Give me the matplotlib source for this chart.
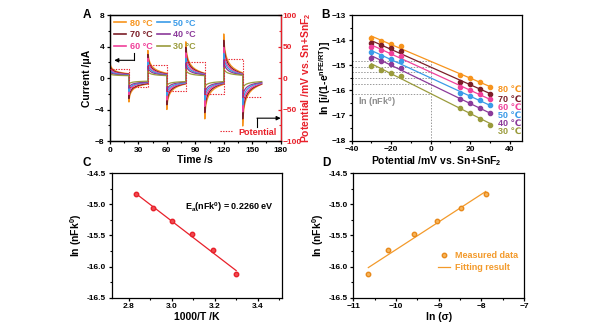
import numpy as np
import matplotlib
matplotlib.use("Agg")
import matplotlib.pyplot as plt
from matplotlib.lines import Line2D
from matplotlib.ticker import MultipleLocator, FormatStrFormatter

plt.rcParams['font.family'] = ['Liberation Sans', 'DejaVu Sans']
plt.rcParams['font.weight'] = 'bold'
plt.rcParams['axes.labelweight'] = 'bold'
plt.rcParams['mathtext.fontset'] = 'custom'
plt.rcParams['mathtext.rm'] = 'Liberation Sans:bold'
plt.rcParams['mathtext.bf'] = 'Liberation Sans:bold'
plt.rcParams['mathtext.it'] = 'Liberation Sans:bold'
plt.rcParams['mathtext.default'] = 'bf'
plt.rcParams['axes.linewidth'] = 0.9

# ---------------- data ----------------
temps = ["80", "70", "60", "50", "40", "30"]
colors = ["#F7941D", "#7B1E28", "#F0409A", "#3A9BE8", "#8B3A9A", "#9A9B3C"]

# potential steps (mV) and their start times (s)
step_start = [0, 20, 40, 60, 80, 100, 120, 140]
step_len = 20
potential = [15, -15, 20, -20, 25, -25, 30, -30]

# current at the start of each step (uA), one row per temperature
peak_current = [
    [2.0, -3.05, 3.5, -4.0, 4.6, -5.2, 5.6, -6.1],
    [1.7, -2.60, 3.0, -3.4, 3.9, -4.4, 4.8, -5.2],
    [1.4, -2.10, 2.5, -2.8, 3.2, -3.6, 3.9, -4.3],
    [1.1, -1.70, 2.0, -2.2, 2.5, -2.8, 3.1, -3.4],
    [0.85, -1.30, 1.5, -1.7, 1.9, -2.1, 2.3, -2.5],
    [0.55, -0.80, 0.9, -1.0, 1.1, -1.2, 1.3, -1.4],
]
# current at the end of each step (uA)
end_current = [
    [0.55, -0.75, 0.60, -0.75, 0.60, -0.80, 0.65, -0.80],
    [0.50, -0.70, 0.50, -0.70, 0.55, -0.70, 0.55, -0.75],
    [0.45, -0.60, 0.45, -0.65, 0.50, -0.65, 0.50, -0.70],
    [0.40, -0.55, 0.40, -0.60, 0.45, -0.60, 0.45, -0.60],
    [0.35, -0.50, 0.35, -0.50, 0.40, -0.55, 0.40, -0.55],
    [0.30, -0.40, 0.30, -0.45, 0.30, -0.45, 0.35, -0.45],
]
# relaxation of a transient: elapsed time (s) and remaining fraction
relax_t = [0, 0.3, 0.7, 1.2, 2, 3, 4, 5.5, 7.5, 10, 13, 16.5, 20]
relax_f = [1, 0.84, 0.71, 0.60, 0.49, 0.40, 0.33, 0.26, 0.19, 0.13, 0.08, 0.035, 0]

# Tafel-type plot: overpotential (mV) vs ln[i/(1-exp(nFE/RT))]
eta = [-30, -25, -20, -15, 15, 20, 25, 30]
lnj = [
    [-13.90, -14.03, -14.15, -14.24, -15.40, -15.50, -15.67, -15.85],
    [-14.10, -14.20, -14.33, -14.45, -15.67, -15.76, -15.93, -16.13],
    [-14.26, -14.39, -14.52, -14.63, -15.87, -15.99, -16.16, -16.36],
    [-14.49, -14.62, -14.74, -14.85, -16.10, -16.23, -16.40, -16.60],
    [-14.71, -14.83, -14.95, -15.09, -16.36, -16.52, -16.71, -16.92],
    [-15.02, -15.17, -15.30, -15.43, -16.72, -16.90, -17.12, -17.36],
]
label_y = [-15.95, -16.35, -16.68, -17.00, -17.30, -17.65]

# exchange rate constants
inv_T = [2.832, 2.914, 3.002, 3.095, 3.193, 3.299]
ln_nFk0 = [-14.84, -15.06, -15.27, -15.48, -15.74, -16.12]
ln_sigma = [-7.90, -8.48, -9.05, -9.58, -10.18, -10.65]

# ---------------- figure ----------------
fig = plt.figure(figsize=(6.0, 3.34), dpi=100)

TICK_FS = 6
LABEL_FS = 7.5
RED = '#E8202A'


def style(ax, xminor, yminor):
    ax.tick_params(which='major', direction='out', length=2.5, width=0.9,
                   labelsize=TICK_FS, pad=1.5)
    ax.tick_params(which='minor', direction='out', length=1.4, width=0.8)
    ax.xaxis.set_minor_locator(MultipleLocator(xminor))
    ax.yaxis.set_minor_locator(MultipleLocator(yminor))
    for lab in ax.get_xticklabels() + ax.get_yticklabels():
        lab.set_fontweight('bold')


# ---- A: chronoamperometry ----
axA = fig.add_axes([0.1833, 0.5778, 0.2845, 0.3772])
axA.set_xlim(0, 180)
axA.set_ylim(-8, 8)
axA.xaxis.set_major_locator(MultipleLocator(30))
axA.yaxis.set_major_locator(MultipleLocator(4))
style(axA, 15, 2)

handles = []
for i, (temp, c) in enumerate(zip(temps, colors)):
    tt, ii = [], []
    for k, t0 in enumerate(step_start):
        p, e = peak_current[i][k], end_current[i][k]
        for dt, f in zip(relax_t, relax_f):
            tt.append(t0 + dt)
            ii.append(e + (p - e) * f)
    axA.plot(tt, ii, color=c, lw=0.9, zorder=3 + i)
    handles.append(Line2D([], [], color=c, lw=1.2, label=f"{temp} °C"))

leg = axA.legend(handles=handles, ncol=2, loc='upper left', frameon=False,
                 fontsize=6.5, handlelength=1.4, handletextpad=0.4,
                 columnspacing=0.5, labelspacing=0.3, borderaxespad=0.2,
                 borderpad=0.2)
for txt, c in zip(leg.get_texts(), colors):
    txt.set_color(c)
    txt.set_fontweight('bold')

# arrows pointing to the matching axes
axA.annotate('', xy=(4.5, 2.25), xytext=(25, 2.25),
             arrowprops=dict(arrowstyle='-|>', color='black', lw=0.8,
                             mutation_scale=6, shrinkA=0, shrinkB=0))
axA.plot([25, 25], [2.25, 3.2], color='black', lw=0.8)
axA.annotate('', xy=(180, -5.1), xytext=(155, -5.1),
             arrowprops=dict(arrowstyle='-|>', color='black', lw=0.8,
                             mutation_scale=6, shrinkA=0, shrinkB=0),
             annotation_clip=False)
axA.plot([155, 155], [-5.1, -6.2], color='black', lw=0.8)

axA.set_xlabel("Time /s", fontsize=LABEL_FS, labelpad=1)
axA.set_ylabel("Current /μA", fontsize=LABEL_FS, labelpad=2)

axA2 = axA.twinx()
axA2.set_ylim(-100, 100)
axA2.yaxis.set_major_locator(MultipleLocator(50))
axA2.tick_params(which='major', direction='in', length=2.5, width=0.9,
                 labelsize=TICK_FS, pad=1.2, colors=RED)
axA2.tick_params(which='minor', direction='in', length=1.4, width=0.8,
                 colors=RED)
axA2.yaxis.set_minor_locator(MultipleLocator(25))
axA2.spines['right'].set_color(RED)
for lab in axA2.get_yticklabels():
    lab.set_fontweight('bold')
pot_t = step_start + [step_start[-1] + step_len]
pot_v = potential + [potential[-1]]
pline, = axA2.plot(pot_t, pot_v, drawstyle='steps-post', color=RED,
                   lw=0.8, ls=(0, (1.2, 1.2)), zorder=10, label='Potential')
axA2.set_ylabel("Potential /mV vs. Sn+SnF$_2$", fontsize=LABEL_FS,
                color=RED)
axA2.yaxis.set_label_coords(1.11, 0.5)
leg2 = axA2.legend(handles=[pline], loc='lower right', frameon=False,
                   fontsize=6.5, handlelength=1.5, handletextpad=0.5,
                   borderaxespad=0.3, borderpad=0.2)
for txt in leg2.get_texts():
    txt.set_color(RED)
    txt.set_fontweight('bold')

# ---- B: ln current vs overpotential ----
axB = fig.add_axes([0.586, 0.579, 0.2833, 0.376])
axB.set_xlim(-40, 46)
axB.set_ylim(-18, -13)
axB.xaxis.set_major_locator(MultipleLocator(20))
axB.yaxis.set_major_locator(MultipleLocator(1))
style(axB, 10, 0.5)

eta_arr = np.array(eta, dtype=float)
intercepts = []
for i, c in enumerate(colors):
    y = np.array(lnj[i])
    slope, icpt = np.polyfit(eta_arr, y, 1)
    intercepts.append(icpt)
    xs = np.array([eta[0], eta[-1]], dtype=float)
    axB.plot(xs, slope * xs + icpt, color=c, lw=0.9, zorder=3)
    axB.plot(eta_arr, y, 'o', color=c, ms=3.0, zorder=4)
    axB.text(34, label_y[i], f"{temps[i]} ℃", color=c, fontsize=6.5,
             fontweight='bold', va='center', ha='left',
             family=['Liberation Sans', 'DejaVu Sans'])
for icpt in intercepts:
    axB.plot([-40, 0], [icpt, icpt], color='#999999', lw=0.7,
             ls=(0, (1.5, 1.5)), zorder=2)
axB.plot([0, 0], [-18, max(intercepts)], color='#999999', lw=0.7,
         ls=(0, (1.5, 1.5)), zorder=2)
axB.text(-37, -16.45, "ln (nFk$^0$)", color='#8C8C8C', fontsize=6.5,
         va='center', ha='left')
axB.set_xlabel("Potential /mV vs. Sn+SnF$_2$", fontsize=LABEL_FS, labelpad=1)
axB.set_ylabel("ln [i/(1-e$^{nFE/RT}$)]", fontsize=LABEL_FS)
axB.yaxis.set_label_coords(-0.11, 0.5)

# ---- C: Arrhenius plot ----
axC = fig.add_axes([0.186, 0.1087, 0.2833, 0.3725])
axC.set_xlim(2.72, 3.51)
axC.set_ylim(-16.5, -14.5)
axC.xaxis.set_major_locator(MultipleLocator(0.2))
axC.yaxis.set_major_locator(MultipleLocator(0.5))
axC.xaxis.set_major_formatter(FormatStrFormatter('%.1f'))
axC.yaxis.set_major_formatter(FormatStrFormatter('%.1f'))
style(axC, 0.1, 0.25)
xC = np.array(inv_T)
yC = np.array(ln_nFk0)
mC, bC = np.polyfit(xC, yC, 1)
xs = np.array([xC.min(), xC.max()])
axC.plot(xs, mC * xs + bC, color=RED, lw=0.9)
axC.plot(xC, yC, 'o', color=RED, ms=3.2, mfc='#F04A50')
axC.text(3.06, -15.05, "E$_a$(nFk$^0$) = 0.2260 eV", fontsize=6.5,
         va='center', ha='left')
axC.set_xlabel("1000/T /K", fontsize=LABEL_FS, labelpad=1)
axC.set_ylabel("ln (nFk$^0$)", fontsize=LABEL_FS, labelpad=2)

# ---- D: rate constant vs conductivity ----
axD = fig.add_axes([0.589, 0.1087, 0.2845, 0.3725])
axD.set_xlim(-11, -7)
axD.set_ylim(-16.5, -14.5)
axD.xaxis.set_major_locator(MultipleLocator(1))
axD.yaxis.set_major_locator(MultipleLocator(0.5))
axD.yaxis.set_major_formatter(FormatStrFormatter('%.1f'))
style(axD, 0.5, 0.25)
xD = np.array(ln_sigma)
yD = np.array(ln_nFk0)
mD, bD = np.polyfit(xD, yD, 1)
xs = np.array([xD.min(), xD.max()])
fit_line, = axD.plot(xs, mD * xs + bD, color='#F39A2B', lw=0.9,
                     label='Fitting result')
pts, = axD.plot(xD, yD, 'o', color='#E8891A', mfc='#F6B35A', ms=3.2,
                ls='none', label='Measured data')
legD = axD.legend(handles=[pts, fit_line], loc='center right',
                  bbox_to_anchor=(1.0, 0.29), frameon=False, fontsize=6.5,
                  handlelength=1.4, handletextpad=0.5, labelspacing=0.3,
                  borderpad=0.2)
for txt in legD.get_texts():
    txt.set_color('#F39A2B')
    txt.set_fontweight('bold')
axD.set_xlabel("ln (σ)", fontsize=LABEL_FS, labelpad=1)
axD.set_ylabel("ln (nFk$^0$)", fontsize=LABEL_FS, labelpad=2)

# panel letters
for letter, (x, y) in zip("ABCD", [(87, 15), (326, 15), (87, 163), (326, 163)]):
    fig.text(x / 600, 1 - y / 334, letter, fontsize=8.5, fontweight='bold',
             ha='center', va='center')

fig.savefig("out.png", dpi=100)
